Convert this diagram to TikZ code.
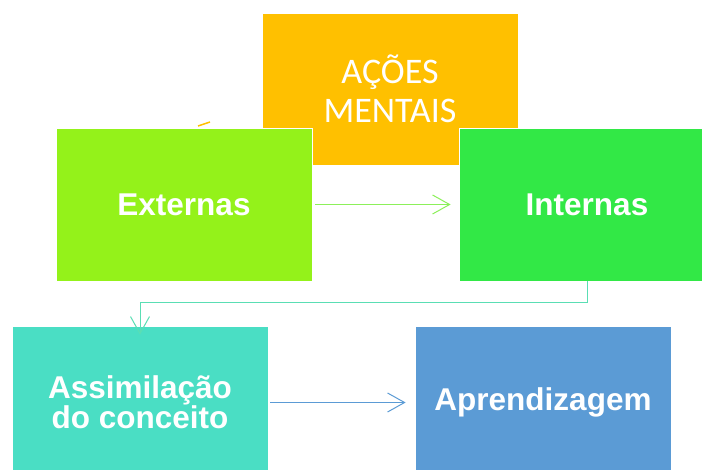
\documentclass[tikz,border=0pt]{standalone}
\usepackage{fontspec}
\setmainfont{Liberation Sans}
\newfontfamily\calib{Carlito}
\usetikzlibrary{arrows.meta}
\definecolor{cOrange}{RGB}{255,192,0}
\definecolor{cLime}{RGB}{148,242,26}
\definecolor{cGreen}{RGB}{50,232,70}
\definecolor{cTeal}{RGB}{74,222,196}
\definecolor{cBlue}{RGB}{91,155,213}
\definecolor{cLineGreen}{RGB}{140,240,90}
\definecolor{cLineTeal}{RGB}{90,222,180}
\begin{document}
\begin{tikzpicture}[x=1pt,y=-1pt,
  box/.style={draw=white,line width=0.8pt,minimum width=256pt,inner sep=0pt,text=white,align=center},
  boldtxt/.style={font=\fontsize{31.5}{28.5}\selectfont\bfseries},
  conn/.style={line width=1pt,-{Straight Barb[length=17pt,width=19pt,line width=1pt]}}]
\useasboundingbox (0,0) rectangle (702,470);
\clip (0,0) rectangle (702,470);
\fill[white] (0,0) rectangle (702,470);
\node[box,fill=cOrange,minimum height=152pt,font=\calib\fontsize{36}{39}\selectfont] (acoes) at (390,89) {AÇÕES\\MENTAIS};
\draw[cOrange,line width=1.5pt] (198,126) -- (210,122);
\node[box,fill=cLime,minimum height=153pt,boldtxt] (ext) at (184,204.5) {Externas};
\node[box,fill=cGreen,minimum height=153pt,boldtxt] (int) at (587,204.5) {Internas};
\node[box,fill=cTeal,minimum height=153pt,boldtxt] (ass) at (140,402.5) {Assimilação\\do conceito};
\node[box,fill=cBlue,minimum height=153pt,boldtxt] (apr) at (543,402.5) {Aprendizagem};
\draw[conn,cLineGreen] ([xshift=3pt]ext.east) -- ([xshift=-8pt]int.west);
\draw[conn,cLineTeal] (int.south) -- ++(0,21) -| ([yshift=-9pt]ass.north);
\draw[conn,cBlue] ([xshift=2pt]ass.east) -- ([xshift=-9pt]apr.west);
\end{tikzpicture}
\end{document}
